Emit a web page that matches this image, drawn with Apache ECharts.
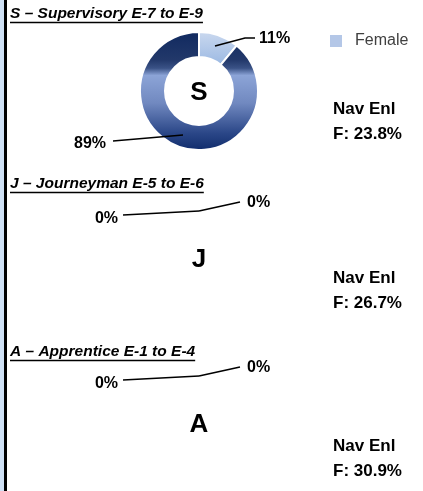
<!DOCTYPE html>
<html><head><meta charset="utf-8">
<script src="https://cdn.jsdelivr.net/npm/echarts@6/dist/echarts.min.js"></script>
<style>html,body{margin:0;padding:0;background:#fff}#c{width:423px;height:491px}</style>
</head><body><div id="c"></div>
<script>
// ---- data ----
const groups = ['S', 'J', 'A'];
const groupTitles = ['S – Supervisory E-7 to E-9', 'J – Journeyman E-5 to E-6', 'A – Apprentice E-1 to E-4'];
const sliceNames = ['Female', 'Male'];
const femaleValues = [11, 0, 0];
const maleValues = [89, 0, 0];
const navEnlFemale = ['23.8%', '26.7%', '30.9%'];

// ---- layout ----
const FONT = '"Liberation Sans", Arial, sans-serif';
const centersY = [91, 258, 423];
const titleY = [14, 184, 352];
const navY = [108, 277, 445];
const cx = 199;

const femaleGrad = new echarts.graphic.LinearGradient(0, 0, 0, 1, [
  {offset: 0, color: '#cbd9ef'}, {offset: 1, color: '#9ab8e2'}]);
const maleGrad = new echarts.graphic.LinearGradient(0, 0, 0, 1, [
  {offset: 0, color: '#10295f'}, {offset: 0.24, color: '#22386a'},
  {offset: 0.31, color: '#3a5286'}, {offset: 0.37, color: '#8ca4d7'},
  {offset: 0.6, color: '#7189c0'}, {offset: 0.85, color: '#2b4788'},
  {offset: 1, color: '#0f2b6b'}]);

// label line layouts relative to pie centre (dx, dy)
const labelSpecsNonZero = [
  {lx: 60, ly: -52, pts: [[16, -45], [46, -53], [56, -53]], align: 'left'},
  {lx: -93, ly: 53, pts: [[-16, 44], [-86, 50], [-86, 50]], align: 'right'}
];
const labelSpecsZero = [
  {lx: 48, ly: -55, pts: [[0, -47], [41, -56], [41, -56]], align: 'left'},
  {lx: -81, ly: -39, pts: [[0, -47], [-76, -43], [-76, -43]], align: 'right'}
];

const series = groups.map((g, i) => {
  const zero = femaleValues[i] + maleValues[i] === 0;
  const cy = centersY[i];
  const specs = zero ? labelSpecsZero : labelSpecsNonZero;
  return {
    type: 'pie',
    name: g,
    center: [cx, cy],
    radius: [34, 59],
    startAngle: 90,
    clockwise: true,
    stillShowZeroSum: true,
    avoidLabelOverlap: false,
    legendHoverLink: false,
    animation: false,
    itemStyle: {borderColor: '#fff', borderWidth: zero ? 0 : 2},
    label: {
      show: true, position: 'outside', formatter: '{c}%',
      fontFamily: FONT, fontWeight: 'bold', fontSize: 16, color: '#000'
    },
    labelLine: {show: true, showAbove: true, lineStyle: {color: '#000', width: 1.5}},
    labelLayout: function (p) {
      const s = specs[p.dataIndex];
      return {
        x: cx + s.lx, y: cy + s.ly, align: s.align, verticalAlign: 'middle',
        labelLinePoints: s.pts.map(q => [cx + q[0], cy + q[1]])
      };
    },
    data: [
      {name: sliceNames[0], value: femaleValues[i],
       itemStyle: {color: zero ? 'rgba(0,0,0,0)' : femaleGrad}},
      {name: sliceNames[1], value: maleValues[i],
       itemStyle: {color: zero ? 'rgba(0,0,0,0)' : maleGrad}}
    ]
  };
});

const measureCtx = document.createElement('canvas').getContext('2d');
const titleFont = 'italic bold 15.5px ' + FONT;
measureCtx.font = titleFont;

const graphics = [
  {type: 'rect', shape: {x: 0, y: 0, width: 4, height: 491}, style: {fill: '#cfe1f5'}, silent: true},
  {type: 'rect', shape: {x: 4, y: 0, width: 3, height: 491}, style: {fill: '#000'}, silent: true}
];
groups.forEach((g, i) => {
  const tw = measureCtx.measureText(groupTitles[i]).width;
  graphics.push({
    type: 'text', x: 10, y: titleY[i],
    style: {text: groupTitles[i], font: titleFont, fill: '#000', textVerticalAlign: 'middle'}
  });
  graphics.push({
    type: 'line', shape: {x1: 10, y1: titleY[i] + 8.5, x2: 10 + tw, y2: titleY[i] + 8.5},
    style: {stroke: '#000', lineWidth: 1.7}, silent: true
  });
  graphics.push({
    type: 'text', x: cx, y: centersY[i] + 2,
    style: {text: g, font: 'bold 26px ' + FONT, fill: '#000', textAlign: 'center', textVerticalAlign: 'middle'}
  });
  graphics.push({
    type: 'text', x: 333, y: navY[i] - 11,
    style: {text: 'Nav Enl\nF: ' + navEnlFemale[i], font: 'bold 17px ' + FONT, fill: '#000', lineHeight: 25}
  });
});

const chart = echarts.init(document.getElementById('c'), null, {renderer: 'canvas'});
chart.setOption({
  animation: false,
  legend: {
    data: ['Female'], left: 330, top: 33, padding: 0, itemWidth: 12, itemHeight: 12,
    icon: 'rect', selectedMode: false,
    textStyle: {fontFamily: FONT, fontSize: 16, color: '#404040', padding: [0, 0, 0, 8]},
    itemStyle: {color: '#b4c7e7', borderWidth: 0}
  },
  series: series,
  graphic: graphics
});
// keep the label guide lines drawn above the ring sectors
(function raiseGuideLines() {
  const zr = chart.getZr();
  const list = zr.storage.getDisplayList(true);
  list.forEach(el => {
    if (el.__hostTarget && el.type === 'polyline') { el.z2 = 1000; el.dirty && el.dirty(); }
  });
  zr.refreshImmediately();
})();
</script>
</body></html>
